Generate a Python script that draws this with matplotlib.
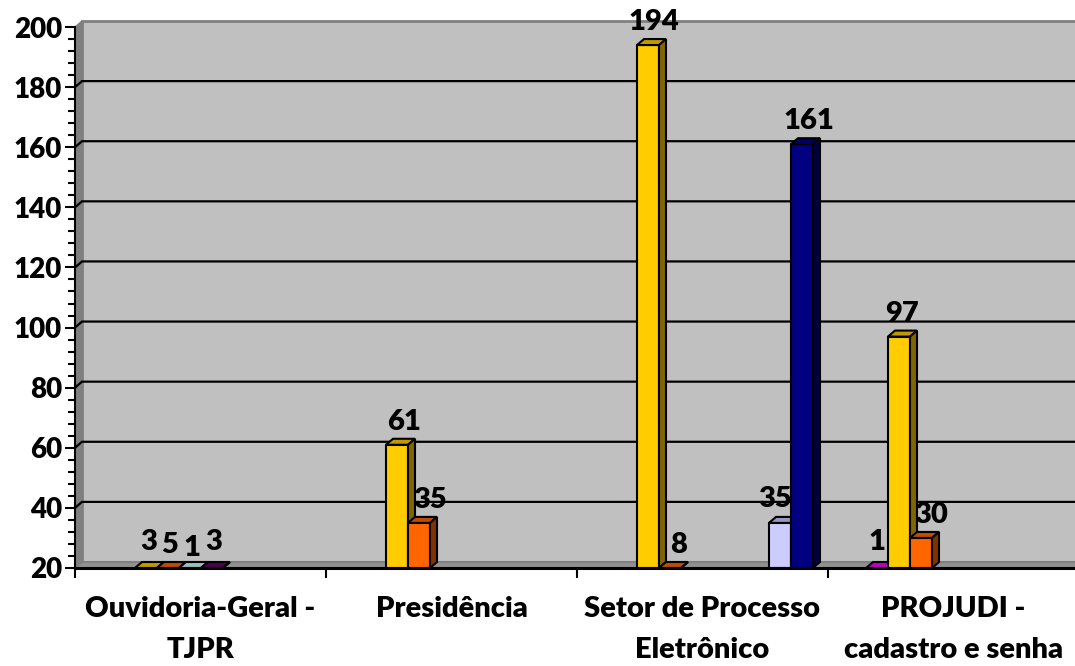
import numpy as np
import matplotlib
matplotlib.use("Agg")
import matplotlib.pyplot as plt
from matplotlib.patches import Polygon
from matplotlib.colors import to_rgb

categories = ["Ouvidoria-Geral -\nTJPR", "Presidência", "Setor de Processo\nEletrônico", "PROJUDI -\ncadastro e senha"]
nan = float("nan")
empty_series = [nan, nan, nan, nan]
magenta_series = [nan, nan, nan, 1]
yellow_series = [3, 61, 194, 97]
orange_series = [5, 35, 8, 30]
cyan_series = [1, nan, nan, nan]
purple_series = [3, nan, nan, nan]
spare_series_a = [nan, nan, nan, nan]
spare_series_b = [nan, nan, nan, nan]
lilac_series = [nan, nan, 35, nan]
navy_series = [nan, nan, 161, nan]
y_ticks = list(range(20, 201, 20))

series = [empty_series, magenta_series, yellow_series, orange_series, cyan_series,
          purple_series, spare_series_a, spare_series_b, lilac_series, navy_series]
colors = ["#9999FF", "#FF00FF", "#FFCC00", "#FF6600", "#CCFFFF",
          "#660066", "#FF8080", "#0066CC", "#CCCCFF", "#000080"]
# pixel nudges of data labels: (series index, category index) -> (dx, dy)
nudge = {(2, 0): (3, 3), (3, 0): (2, 0), (4, 0): (2, -3), (5, 0): (2, 3),
         (2, 1): (7, 0), (3, 1): (11, 0),
         (2, 2): (6, 0), (3, 2): (9, 0), (8, 2): (-5, 1), (9, 2): (7, 0),
         (1, 3): (0, 3), (2, 3): (3, 0), (3, 3): (10, 0)}

W, H = 1075, 666
FONT = "Lato"
WEIGHT = "heavy"
fig = plt.figure(figsize=(W / 100, H / 100), dpi=100, facecolor="white")
ax = fig.add_axes([75 / W, (H - 568) / H, 1000 / W, 541 / H])
ymin, ymax = 20, 200
cat_px = 251.0
ax.set_xlim(0, 1000 / cat_px)
ax.set_ylim(ymin, ymax)
ax.patch.set_visible(False)

dx = 7.0 / cat_px
dy = 6.0 * (ymax - ymin) / 541.0
xr = 1000 / cat_px

# walls
ax.add_patch(Polygon([(dx, ymin + dy), (xr + 1, ymin + dy), (xr + 1, ymax + dy), (dx, ymax + dy)],
                     closed=True, fc="#C0C0C0", ec="#808080", lw=2, clip_on=False, zorder=1))
ax.add_patch(Polygon([(0, ymin), (dx, ymin + dy), (dx, ymax + dy), (0, ymax)],
                     closed=True, fc="#808080", ec="#808080", lw=1, clip_on=False, zorder=1.1))
ax.add_patch(Polygon([(0, ymin), (xr + 1, ymin), (xr + 1, ymin + dy), (dx, ymin + dy)],
                     closed=True, fc="#909090", ec="#808080", lw=1.5, clip_on=False, zorder=1.1))

# gridlines on back and side walls
for v in y_ticks[1:-1]:
    ax.plot([0, dx, xr + 1], [v, v + dy, v + dy], color="black", lw=1.6,
            clip_on=False, zorder=1.5, solid_joinstyle="miter")


def shade(c, f):
    return tuple(x * f for x in to_rgb(c))


slot_start = 16.0 / cat_px
bar_w = 22.0 / cat_px
z = 3
for si, vals in enumerate(series):
    for ci, v in enumerate(vals):
        if np.isnan(v):
            continue
        x0 = ci + slot_start + si * bar_w
        top = max(v, ymin)
        c = colors[si]
        ec = "black"
        ax.bar(x0, top - ymin, width=bar_w, bottom=ymin, align="edge", color=c,
               edgecolor=ec, linewidth=1.5, zorder=z, clip_on=False)
        ax.add_patch(Polygon([(x0, top), (x0 + dx, top + dy), (x0 + bar_w + dx, top + dy), (x0 + bar_w, top)],
                             closed=True, fc=shade(c, 0.75), ec=ec, lw=1.5, zorder=z, clip_on=False))
        ax.add_patch(Polygon([(x0 + bar_w, ymin), (x0 + bar_w + dx, ymin + dy), (x0 + bar_w + dx, top + dy), (x0 + bar_w, top)],
                             closed=True, fc=shade(c, 0.5), ec=ec, lw=1.5, zorder=z, clip_on=False))
        ndx, ndy = nudge.get((si, ci), (0, 0))
        ax.annotate(f"{v:g}", xy=(x0 + bar_w / 2, top), xytext=(ndx * 0.72, (23 + ndy) * 0.72),
                    textcoords="offset points", ha="center", va="center",
                    fontsize=21, fontweight=WEIGHT, family=FONT, color="black",
                    zorder=20, annotation_clip=False)
        z += 0.1

# axes
for s in ("top", "right"):
    ax.spines[s].set_visible(False)
ax.spines["left"].set_linewidth(1.5)
ax.spines["bottom"].set_linewidth(2.2)
for s in ("left", "bottom"):
    ax.spines[s].set_zorder(15)
ax.set_yticks(y_ticks)
ax.set_yticks(np.arange(20, 201, 4), minor=True)
ax.tick_params(axis="y", which="major", length=7.5, width=1.5, pad=2, labelsize=20)
ax.tick_params(axis="y", which="minor", length=5, width=1.5)
ax.set_xticks(range(len(categories)))
ax.set_xticklabels([])
ax.set_xticks(np.arange(len(categories)) + 0.5, minor=True)
ax.set_xticklabels(categories, minor=True, fontsize=21, fontweight=WEIGHT, family=FONT, linespacing=1.7)
ax.tick_params(axis="x", which="major", length=7.5, width=1.5)
ax.tick_params(axis="x", which="minor", length=0, pad=20.5)
for lab in ax.get_yticklabels():
    lab.set_fontweight(WEIGHT)
    lab.set_family(FONT)

fig.savefig("out.png", dpi=100)
